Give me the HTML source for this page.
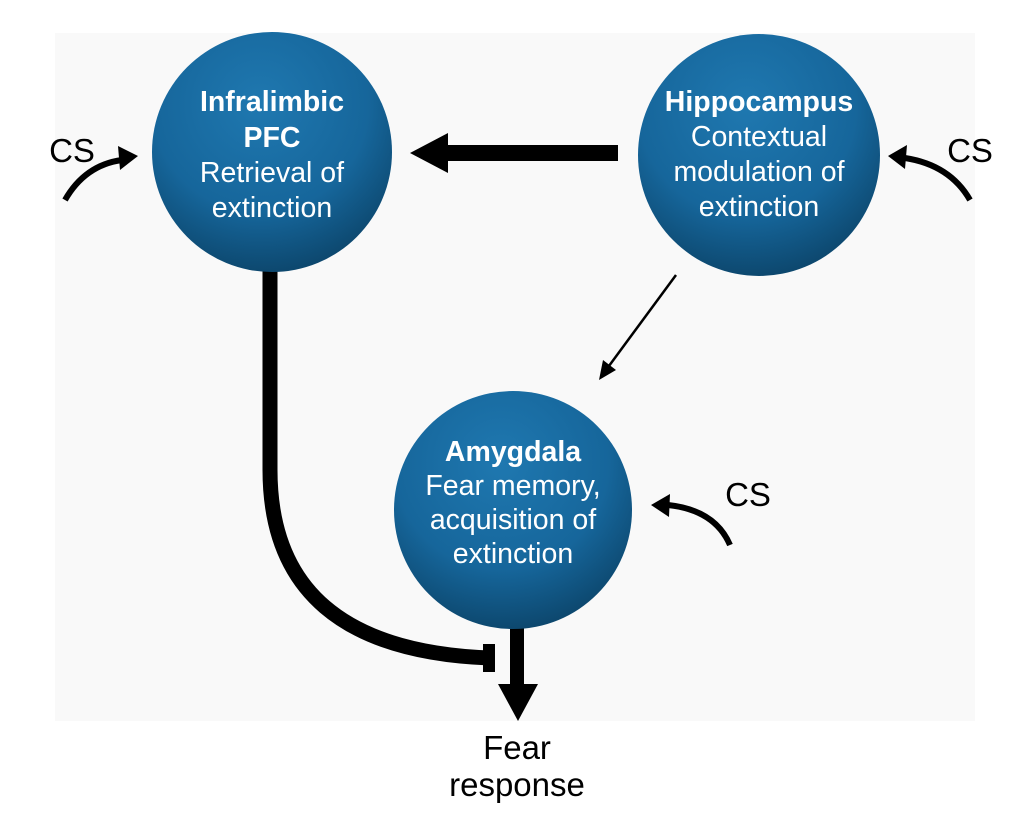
<!DOCTYPE html>
<html><head><meta charset="utf-8"><style>
html,body{margin:0;padding:0;background:#fff;}
svg{display:block;}
text{font-family:"Liberation Sans",Arial,sans-serif;}
</style></head><body>
<svg width="1010" height="818" viewBox="0 0 1010 818" xmlns="http://www.w3.org/2000/svg">
<defs>
<radialGradient id="g" cx="0.45" cy="0.3" r="0.75">
<stop offset="0" stop-color="#1f78b0"/>
<stop offset="0.6" stop-color="#16669b"/>
<stop offset="1" stop-color="#0b4266"/>
</radialGradient>
</defs>
<rect x="55" y="33" width="920" height="688" fill="#f9f9f9"/>
<path d="M270 260 L270 470 Q270 650 490 658" fill="none" stroke="#000" stroke-width="15"/>
<rect x="483" y="644" width="12" height="28" fill="#000"/>
<rect x="510" y="615" width="14" height="75" fill="#000"/>
<polygon points="498,684 538,684 518,721" fill="#000"/>
<rect x="440" y="145" width="178" height="16" fill="#000"/>
<polygon points="410,153 448,133 448,173" fill="#000"/>
<line x1="676" y1="275" x2="606" y2="370" stroke="#000" stroke-width="2.5"/>
<polygon points="599,380 603,360 616,370" fill="#000"/>
<circle cx="272" cy="152" r="120" fill="url(#g)"/>
<circle cx="759" cy="155" r="121" fill="url(#g)"/>
<circle cx="513" cy="510" r="119" fill="url(#g)"/>
<g fill="#fff" font-size="28.5" text-anchor="middle">
<text x="272" y="111" font-weight="bold">Infralimbic</text>
<text x="272" y="147" font-weight="bold">PFC</text>
<text x="272" y="182">Retrieval of</text>
<text x="272" y="217">extinction</text>
<text x="759" y="111" font-weight="bold">Hippocampus</text>
<text x="759" y="146">Contextual</text>
<text x="759" y="181">modulation of</text>
<text x="759" y="216">extinction</text>
<text x="513" y="461" font-weight="bold">Amygdala</text>
<text x="513" y="495">Fear memory,</text>
<text x="513" y="529">acquisition of</text>
<text x="513" y="563">extinction</text>
</g>
<path d="M65 200 Q85 165 122 160" fill="none" stroke="#000" stroke-width="6"/>
<polygon points="138,156 118,146 120,170" fill="#000"/>
<path d="M970 200 Q950 165 905 158" fill="none" stroke="#000" stroke-width="6"/>
<polygon points="888,156 907,145 905,169" fill="#000"/>
<path d="M730 545 Q715 510 668 505" fill="none" stroke="#000" stroke-width="6"/>
<polygon points="651,505 670,494 669,517" fill="#000"/>
<g fill="#000" font-size="33" text-anchor="middle">
<text x="72" y="162">CS</text>
<text x="970" y="162">CS</text>
<text x="748" y="506">CS</text>
<text x="517" y="759">Fear</text>
<text x="517" y="796">response</text>
</g>
</svg>
</body></html>
